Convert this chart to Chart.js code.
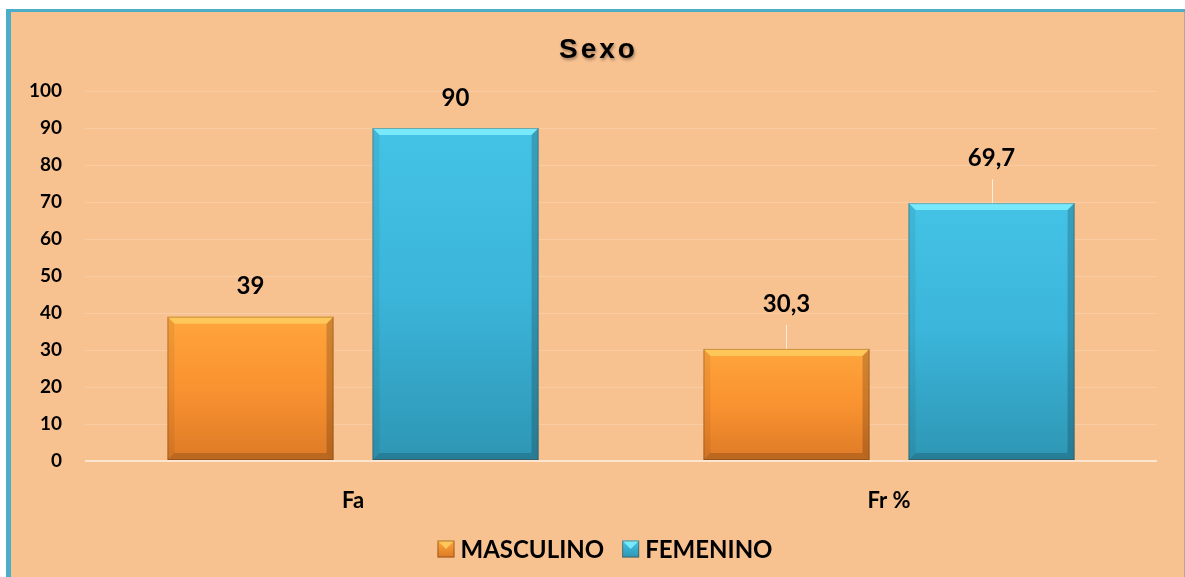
<!DOCTYPE html>
<html>
<head>
<meta charset="utf-8">
<script src="https://cdn.jsdelivr.net/npm/chart.js@4.4.1/dist/chart.umd.min.js"></script>
<style>
  html, body { margin: 0; padding: 0; background: #ffffff; }
  #wrap { position: absolute; left: 0; top: 0; width: 1185px; height: 577px; }
</style>
</head>
<body>
<div id="wrap"><canvas id="c" width="1185" height="577"></canvas></div>
<script>
// ---- data ----
const categories = ['Fa', 'Fr %'];
const seriesNames = ['MASCULINO', 'FEMENINO'];
const masculinoValues = [39, 30.3];
const femeninoValues = [90, 69.7];
const yTicks = [0, 10, 20, 30, 40, 50, 60, 70, 80, 90, 100];
const chartTitle = 'Sexo';

// ---- styles ----
const BG = '#F8C190';
const FRAME = '#4BADC7';
const ORANGE = { top: '#FFA53C', mid: '#F99230', bot: '#DD7A26', hi: '#FFC75A' };
const BLUE = { top: '#44C3E6', mid: '#3BB5DA', bot: '#2E96B4', hi: '#78E8FB' };
const PALETTES = [ORANGE, BLUE];
const FONT = 'Lato, "Open Sans", sans-serif';

function fmt(v) { return String(v).replace('.', ','); }

function barGradient(ctx, pal) {
  const chart = ctx.chart;
  const area = chart.chartArea;
  if (!area || ctx.type !== 'data') return pal.mid;
  const ys = chart.scales.y;
  const top = ys.getPixelForValue(ctx.parsed.y);
  const bot = ys.getPixelForValue(0);
  const g = chart.ctx.createLinearGradient(0, top, 0, bot);
  g.addColorStop(0, pal.top);
  g.addColorStop(0.5, pal.mid);
  g.addColorStop(1, pal.bot);
  return g;
}

const framePlugin = {
  id: 'frame',
  beforeDraw(chart) {
    const ctx = chart.ctx;
    ctx.save();
    ctx.fillStyle = '#ffffff';
    ctx.fillRect(0, 0, chart.width, chart.height);
    ctx.fillStyle = BG;
    ctx.fillRect(6, 9, chart.width - 7, chart.height - 9);
    ctx.fillStyle = FRAME;
    ctx.fillRect(6, 9, chart.width - 6, 3);
    ctx.fillRect(6, 9, 5, chart.height - 9);
    ctx.fillStyle = '#B9A595';
    ctx.fillRect(chart.width - 1, 12, 1, chart.height - 12);
    // title with letter spacing and soft shadow
    ctx.font = 'bold 28px "Liberation Sans", Arial, sans-serif';
    ctx.textAlign = 'left';
    ctx.textBaseline = 'middle';
    let sp = 0;
    try { ctx.letterSpacing = '3px'; sp = 3; } catch (e) {}
    const w = ctx.measureText(chartTitle).width - sp;
    const x0 = 597 - w / 2;
    ctx.shadowColor = 'rgba(0,0,0,0.35)';
    ctx.shadowBlur = 3;
    ctx.shadowOffsetX = 1;
    ctx.shadowOffsetY = 2;
    ctx.fillStyle = '#000000';
    ctx.fillText(chartTitle, x0, 50);
    ctx.restore();
  }
};

const bevelPlugin = {
  id: 'bevel',
  afterDatasetsDraw(chart) {
    const ctx = chart.ctx;
    const b = 7;
    chart.data.datasets.forEach((ds, di) => {
      const pal = PALETTES[di];
      chart.getDatasetMeta(di).data.forEach((el) => {
        const l = el.x - el.width / 2, r = el.x + el.width / 2;
        const t = el.y, bo = el.base;
        ctx.save();
        const poly = (pts, fill) => {
          ctx.beginPath();
          ctx.moveTo(pts[0][0], pts[0][1]);
          for (let i = 1; i < pts.length; i++) ctx.lineTo(pts[i][0], pts[i][1]);
          ctx.closePath();
          ctx.fillStyle = fill;
          ctx.fill();
        };
        poly([[l, t], [r, t], [r - b, t + b], [l + b, t + b]], pal.hi);
        poly([[l, t], [l + b, t + b], [l + b, bo - b], [l, bo]], 'rgba(0,0,0,0.06)');
        poly([[r, t], [r, bo], [r - b, bo - b], [r - b, t + b]], 'rgba(0,0,0,0.18)');
        poly([[l, bo], [r, bo], [r - b, bo - b], [l + b, bo - b]], 'rgba(0,0,0,0.16)');
        ctx.strokeStyle = 'rgba(90,50,20,0.35)';
        ctx.lineWidth = 1;
        ctx.strokeRect(l + 0.5, t + 0.5, el.width - 1, bo - t - 1);
        ctx.restore();
      });
    });
  }
};

const labelPlugin = {
  id: 'valueLabels',
  afterDatasetsDraw(chart, args, opts) {
    const ctx = chart.ctx;
    ctx.save();
    ctx.font = 'bold 24px ' + FONT;
    ctx.textAlign = 'center';
    ctx.textBaseline = 'middle';
    chart.data.datasets.forEach((ds, di) => {
      chart.getDatasetMeta(di).data.forEach((el, i) => {
        const gap = opts.gaps[i];
        const y = el.y - gap;
        if (opts.leader[i]) {
          ctx.strokeStyle = 'rgba(255,245,235,0.85)';
          ctx.lineWidth = 1;
          ctx.beginPath();
          ctx.moveTo(Math.round(el.x) + 0.5, y + 21);
          ctx.lineTo(Math.round(el.x) + 0.5, el.y);
          ctx.stroke();
        }
        ctx.fillStyle = '#000000';
        ctx.fillText(fmt(ds.data[i]), el.x, y);
      });
    });
    ctx.restore();
  }
};

const legendPlugin = {
  id: 'customLegend',
  afterDraw(chart) {
    const ctx = chart.ctx;
    ctx.save();
    ctx.font = 'bold 24px ' + FONT;
    ctx.textBaseline = 'middle';
    ctx.textAlign = 'left';
    const box = 17, gapBox = 6, gapItem = 18;
    const widths = seriesNames.map(n => box + gapBox + ctx.measureText(n).width);
    const total = widths.reduce((a, c) => a + c, 0) + gapItem * (widths.length - 1);
    let x = 605 - total / 2;
    const y = 549;
    seriesNames.forEach((n, i) => {
      const pal = PALETTES[i];
      const g = ctx.createLinearGradient(0, y - box / 2, 0, y + box / 2);
      g.addColorStop(0, pal.top);
      g.addColorStop(1, pal.bot);
      ctx.fillStyle = g;
      ctx.fillRect(x, y - box / 2, box, box);
      ctx.fillStyle = pal.hi;
      ctx.beginPath();
      ctx.moveTo(x, y - box / 2); ctx.lineTo(x + box, y - box / 2);
      ctx.lineTo(x + box / 2, y); ctx.closePath(); ctx.fill();
      ctx.strokeStyle = 'rgba(90,50,20,0.5)';
      ctx.strokeRect(x + 0.5, y - box / 2 + 0.5, box - 1, box - 1);
      ctx.fillStyle = '#000000';
      ctx.fillText(n, x + box + gapBox, y + 1);
      x += widths[i] + gapItem;
    });
    ctx.restore();
  }
};

new Chart(document.getElementById('c'), {
  type: 'bar',
  data: {
    labels: categories,
    datasets: [
      { label: seriesNames[0], data: masculinoValues, backgroundColor: (c) => barGradient(c, ORANGE), borderWidth: 0 },
      { label: seriesNames[1], data: femeninoValues, backgroundColor: (c) => barGradient(c, BLUE), borderWidth: 0 }
    ]
  },
  options: {
    responsive: false,
    animation: false,
    events: [],
    devicePixelRatio: 1,
    layout: { padding: { left: 20, right: 28, top: 91, bottom: 56 } },
    datasets: { bar: { categoryPercentage: 0.765, barPercentage: 0.81 } },
    plugins: {
      legend: { display: false },
      title: { display: false },
      tooltip: { enabled: false },
      valueLabels: { gaps: [30, 45], leader: [false, true] }
    },
    scales: {
      x: {
        grid: { display: false, drawTicks: false },
        border: { display: false },
        ticks: { color: '#000', font: { family: FONT, size: 22, weight: 'bold' }, padding: 27 },
        afterFit(s) { s.height = 60; }
      },
      y: {
        min: 0, max: 100,
        afterBuildTicks(s) { s.ticks = yTicks.map(v => ({ value: v })); },
        grid: {
          drawTicks: false,
          color: (c) => c.tick && c.tick.value === 0 ? '#FCE6D2' : '#F9CCA4',
          lineWidth: (c) => c.tick && c.tick.value === 0 ? 2 : 1
        },
        border: { display: false },
        ticks: { color: '#000', font: { family: FONT, size: 19, weight: 'bold' }, padding: 23 },
        afterFit(s) { s.width = 65; }
      }
    }
  },
  plugins: [framePlugin, bevelPlugin, labelPlugin, legendPlugin]
});
</script>
</body>
</html>
